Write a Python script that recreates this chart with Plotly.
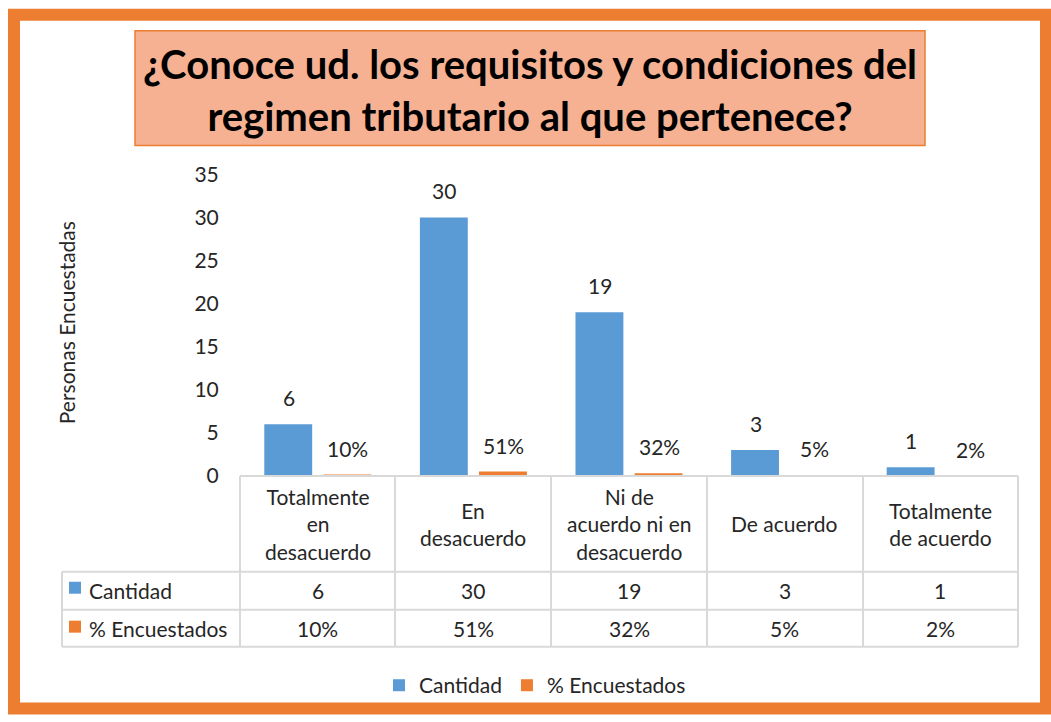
import plotly.graph_objects as go

W, H = 1051, 722

categorias = ['Totalmente<br>en<br>desacuerdo', 'En<br>desacuerdo', 'Ni de<br>acuerdo ni en<br>desacuerdo',
              'De acuerdo', 'Totalmente<br>de acuerdo']
cantidad = [6, 30, 19, 3, 1]
porcentaje = [10, 51, 32, 5, 2]
series = ['Cantidad', '% Encuestados']
y_ticks = [0, 5, 10, 15, 20, 25, 30, 35]

titulo = '¿Conoce ud. los requisitos y condiciones del<br>regimen tributario al que pertenece?'
eje_y = 'Personas Encuestadas'

AZUL = '#5b9bd5'
NARANJA = '#ed7d31'
GRIS = '#d9d9d9'
TXT = '#262626'
FONT = 'Lato'


def px_x(x):
    return x / W


def px_y(y):
    # la captura comprime un poco el eje vertical; se corrige aqui
    return 1 - ((y - 13.3) / 0.967) / H


def f(size, color=TXT):
    return dict(size=size, color=color, family=FONT)


fig = go.Figure()
fig.add_trace(go.Bar(x=categorias, y=cantidad, name=series[0], marker_color=AZUL,
                     marker_line_width=0))
fig.add_trace(go.Bar(x=categorias, y=[p / 100 for p in porcentaje], name=series[1],
                     marker_color=NARANJA, marker_line_width=0))

annotations = []
for c, v, p in zip(categorias, cantidad, porcentaje):
    # etiquetas de datos sobre las barras
    annotations.append(dict(x=c, y=v, xref='x', yref='y', text=str(v), showarrow=False,
                            xshift=-29, yshift=12, yanchor='bottom', font=f(21)))
    annotations.append(dict(x=c, y=p / 100, xref='x', yref='y', text=f'{p}%', showarrow=False,
                            xshift=30, yshift=12, yanchor='bottom', font=f(21)))
    # tabla de datos
    annotations.append(dict(x=c, y=px_y(524), xref='x', yref='paper', text=c, showarrow=False,
                            yanchor='middle', font=f(21)))
    annotations.append(dict(x=c, y=px_y(591), xref='x', yref='paper', text=str(v), showarrow=False,
                            yanchor='middle', font=f(21)))
    annotations.append(dict(x=c, y=px_y(629), xref='x', yref='paper', text=f'{p}%', showarrow=False,
                            yanchor='middle', font=f(21)))

# nombres de filas de la tabla
for name, yc in zip(series, [591, 629]):
    annotations.append(dict(x=px_x(87), y=px_y(yc), xref='paper', yref='paper', text=name,
                            showarrow=False, xanchor='left', yanchor='middle', font=f(21)))

annotations.append(dict(x=px_x(530), y=px_y(89), xref='paper', yref='paper', text='<b>' + titulo + '</b>',
                        showarrow=False, xanchor='center', yanchor='middle', font=f(40, 'black')))
annotations.append(dict(x=px_x(66), y=px_y(323), xref='paper', yref='paper', text=eje_y,
                        showarrow=False, textangle=-90, xanchor='center', yanchor='middle', font=f(21)))

shapes = []
# marco naranja
shapes.append(dict(type='rect', xref='paper', yref='paper', x0=px_x(14), x1=px_x(1046),
                   y0=px_y(14), y1=px_y(709), line=dict(color=NARANJA, width=12)))
# caja del titulo
shapes.append(dict(type='rect', xref='paper', yref='paper', x0=px_x(135), x1=px_x(925),
                   y0=px_y(30), y1=px_y(145), fillcolor='#f5b192', line=dict(color=NARANJA, width=1.5),
                   layer='below'))

# lineas de la tabla
cols = [240, 395, 551, 707, 863, 1018]
for xc in cols:
    shapes.append(dict(type='line', xref='paper', yref='paper', x0=px_x(xc), x1=px_x(xc),
                       y0=px_y(476), y1=px_y(647), line=dict(color=GRIS, width=2)))
shapes.append(dict(type='line', xref='paper', yref='paper', x0=px_x(62), x1=px_x(62),
                   y0=px_y(572), y1=px_y(647), line=dict(color=GRIS, width=2)))
shapes.append(dict(type='line', xref='paper', yref='paper', x0=px_x(240), x1=px_x(1018),
                   y0=px_y(476), y1=px_y(476), line=dict(color=GRIS, width=2)))
for yr in [572, 610, 647]:
    shapes.append(dict(type='line', xref='paper', yref='paper', x0=px_x(62), x1=px_x(1018),
                       y0=px_y(yr), y1=px_y(yr), line=dict(color=GRIS, width=2)))
# claves de color en la tabla
for color, yc in zip([AZUL, NARANJA], [588, 627]):
    shapes.append(dict(type='rect', xref='paper', yref='paper', x0=px_x(69), x1=px_x(81),
                       y0=px_y(yc - 6), y1=px_y(yc + 6), fillcolor=color, line_width=0))

fig.update_layout(
    width=W, height=H, autosize=False,
    margin=dict(l=0, r=0, t=0, b=0),
    paper_bgcolor='white', plot_bgcolor='white',
    barmode='group', bargap=0.24, bargroupgap=0.19,
    font=dict(family=FONT, color=TXT),
    xaxis=dict(domain=[px_x(240), px_x(1018)], showticklabels=False, showline=False,
               showgrid=False, zeroline=False, fixedrange=True),
    yaxis=dict(domain=[px_y(476), px_y(174)], range=[0, 35], tickvals=y_ticks,
               showgrid=False, showline=False, zeroline=False,
               ticks='outside', ticklen=16, tickcolor='rgba(0,0,0,0)',
               tickfont=f(21), fixedrange=True),
    legend=dict(orientation='h', x=px_x(535), xanchor='center', y=px_y(686), yanchor='middle',
                itemwidth=30, bgcolor='rgba(0,0,0,0)', font=f(21)),
    annotations=annotations, shapes=shapes,
)

fig.write_html('out.html', config=dict(displayModeBar=False),
               post_script="document.body.style.margin='0';")
